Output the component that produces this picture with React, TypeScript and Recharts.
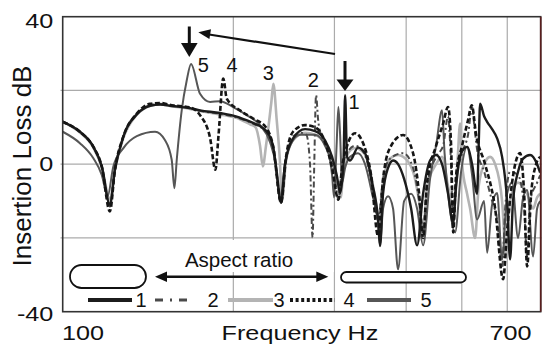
import { CartesianGrid, Line, LineChart, XAxis, YAxis } from "recharts";

// frequency (Hz) / insertion loss (dB), one pair of arrays per shape
const freq1 = [100.9, 108.1, 114.1, 118.0, 121.9, 124.4, 128.6, 135.8, 143.2, 149.1, 156.2, 168.1, 175.0, 189.6, 205.4, 216.5, 228.7, 234.5, 238.0, 242.2, 246.0, 254.1, 266.7, 277.6, 288.9, 297.2, 302.8, 307.0, 311.0, 313.1, 315.6, 319.4, 329.8, 339.2, 348.9, 357.4, 360.2, 364.6, 372.0, 379.5, 387.2, 396.7, 408.0, 417.9, 428.1, 440.2, 451.0, 461.9, 473.2, 482.9, 488.7, 498.6, 510.7, 521.1, 531.6, 535.0, 538.1, 546.8, 553.4, 564.6, 576.1, 587.7, 599.6, 606.8, 614.0, 626.7, 639.4, 657.5, 676.3, 684.5];
const loss1 = [11.5, 8.8, 4.7, -0.6, -11, -1.5, 7.4, 13.5, 15.8, 16.2, 15.8, 15.2, 14.6, 13.9, 12.6, 11.2, 8.8, 5, -2, -10.5, 0, 7, 9.5, 9, 6.5, 2, -3, -7.8, 0, 18.7, 2, 1, 4.5, 3, -5, -15, -22.2, -8, -1, 1, 0, -4, -12, -22, -8, 1, 2.5, 0, -8, -16, -6, 3, 4.7, 0, -8, 5, 16.4, 13, 11.5, 9.5, 7, 2, -10, -25.8, -10, -2, 1.5, 2.5, 0, -2.3];

const freq2 = [100.9, 108.1, 114.1, 118.0, 121.9, 124.4, 128.6, 135.8, 143.2, 149.1, 156.2, 168.1, 175.0, 189.6, 205.4, 216.5, 228.7, 234.5, 242.2, 247.1, 254.1, 262.3, 268.0, 272.0, 274.8, 276.5, 278.7, 281.0, 285.0, 294.8, 300.0, 304.8, 309.3, 315.6, 325.9, 337.9, 347.5, 357.4, 364.6, 375.0, 395.1, 411.2, 421.3, 428.1, 435.0, 451.0, 463.9, 473.2, 478.0, 482.9, 488.7, 500.6, 512.7, 521.1, 526.0, 531.6, 546.8, 564.6, 576.1, 587.7, 595.0, 606.8, 626.7, 642.0, 649.7, 657.5, 676.3, 684.5];
const loss2 = [11.5, 8.8, 4.7, -0.6, -11.5, -1.5, 7.4, 13.7, 16, 16.4, 15.9, 15.2, 14.5, 13.7, 12.4, 11, 8.6, 4, -10, 1, 7.5, 8.5, 8, 0, -19.9, -2, 18.7, 12, 7.4, 3, -3, -9.6, -1, 3, 5, 3, -4, -15, -4, 1.5, 3, -1, -10, -19, -6, 2, 5, 13, 3, -15, -5, 3, 8, 15.5, 10, 4, -2, -10, -15, -28, -12, -2, -3, -12, -25, -10, -5, -3];

const freq3 = [100.9, 108.1, 114.1, 118.0, 121.9, 124.4, 128.6, 135.8, 143.2, 149.1, 156.2, 168.1, 175.0, 189.6, 205.4, 213.9, 218.7, 222.6, 225.1, 228.0, 233.0, 234.8, 238.0, 241.0, 243.0, 247.1, 254.1, 266.7, 277.6, 288.9, 297.2, 302.8, 307.5, 311.0, 315.6, 325.9, 337.9, 347.5, 357.4, 360.2, 364.6, 375.0, 387.2, 395.1, 411.2, 421.3, 428.1, 435.0, 451.0, 461.9, 473.2, 482.9, 488.7, 492.0, 496.6, 500.6, 510.7, 516.9, 527.4, 535.0, 546.8, 560.0, 571.5, 587.7, 597.0, 606.8, 626.7, 649.7, 665.6, 676.3, 684.5];
const loss3 = [11.5, 8.6, 4.5, -0.8, -9.6, -1.5, 7, 13.4, 15.8, 16.2, 15.7, 15, 14.4, 13.5, 12.2, 10.8, 10, 5, -0.6, 5, 17, 21.8, 12, 1.2, -10, 1, 6.5, 8.5, 8, 5.5, 1, -4, -9, -2, 2.5, 4.4, 3, -3, -14, -16, -5, 1.5, 2.5, 2, -2, -10, -18, -6, 0, 2, -6, -12, -5, 2, 11, 0, -8, -12, -20, -6, 0, 2, 0, -10, -25, -10, -5, -8, -12, -9, -8];

const freq4 = [100.9, 108.1, 114.1, 118.0, 121.9, 124.4, 128.6, 135.8, 143.2, 149.1, 156.2, 168.1, 175.0, 182.2, 186.1, 188.5, 192.1, 194.8, 205.4, 216.5, 228.7, 234.5, 242.2, 247.1, 254.1, 266.7, 277.6, 288.9, 297.2, 304.8, 309.3, 315.6, 325.9, 337.9, 347.5, 357.4, 364.6, 375.0, 395.1, 411.2, 421.3, 428.1, 435.0, 451.0, 463.9, 473.2, 479.0, 482.9, 488.7, 500.6, 512.7, 520.4, 529.5, 548.9, 571.5, 590.1, 599.6, 611.7, 631.6, 642.0, 649.7, 660.3, 673.6, 684.5];
const loss4 = [11.5, 8.8, 4.7, -0.6, -12.8, -1.5, 7.4, 13.7, 16.4, 16.6, 16, 15.4, 13.3, 7.1, -1.5, 8, 23.2, 17.8, 14.6, 12.4, 9.7, 5, -10.4, 2, 8.8, 10.6, 10, 6, -1, -9.6, -1, 5, 8.4, 5, -3, -19.5, -4, 4.5, 7.9, 3, -8, -20, -5, 5, 11, 15.5, 5, -18.5, -3, 5, 12, 16, 8, 0, -12, -31.2, -18, -5, 3, -8, -27.7, -8, 0, 2];

const freq5 = [100.9, 108.1, 114.1, 118.0, 120.8, 123.6, 128.6, 135.8, 146.1, 152.1, 156.2, 157.9, 159.4, 162.6, 165.9, 168.8, 175.0, 182.2, 189.6, 199.8, 211.1, 222.6, 231.7, 237.0, 241.2, 246.0, 251.1, 261.4, 277.6, 288.9, 294.8, 297.2, 299.6, 302.6, 304.8, 306.9, 309.3, 313.1, 319.4, 329.8, 339.2, 348.9, 357.4, 360.2, 364.6, 372.0, 379.5, 387.2, 396.7, 408.0, 417.9, 428.1, 440.2, 451.0, 461.9, 466.6, 473.2, 486.7, 498.6, 510.7, 521.1, 531.6, 546.8, 553.4, 564.6, 576.1, 587.7, 599.6, 611.7, 626.7, 639.4, 649.7, 665.6, 676.3, 684.5];
const loss5 = [8.8, 5.7, 1.6, -2.9, -8.7, -0.6, 4.3, 7.6, 8.8, 6.5, 1.2, -6.5, 1.2, 14.6, 22.7, 27.2, 19.1, 16.9, 17.1, 15.5, 13.3, 10.6, 6, 0, -10, 0, 5, 8, 8, 5, 1, -3, -9, 5, 15.5, 8, -5, -1, 2, 3, 0, -8, -16, -22, -12, -8.7, -12, -28.5, -10, -8, -12, -22, -4, 5, 14.6, 3, -8, -18.5, -2, 4.7, -3, -15, -10, -24, -11, -7.8, -25.8, -8, -5, -20, -9, -7, -25, -12, -10];

const xTicks = [100, 700];
const yTicks = [-40, 0, 40];
const xGrid = [200, 300, 400, 500, 600];
const yGrid = [-20, 0, 20];

const FONT = "'Liberation Sans', Arial, sans-serif";

const rows = (f: number[], v: number[]) => f.map((x, i) => ({ f: x, v: v[i] }));

const series = [
  { name: "1", data: rows(freq1, loss1), stroke: "#1c1c1c", width: 2.4, dash: undefined as string | undefined, legendDash: undefined as string | undefined, legendWidth: 4.2, legend: [88, 132, 141] },
  { name: "2", data: rows(freq2, loss2), stroke: "#4a4a4a", width: 2, dash: "6 3 2 3", legendDash: "8 7 2 7", legendWidth: 3, legend: [155, 194, 213] },
  { name: "3", data: rows(freq3, loss3), stroke: "#b4b4b4", width: 2.6, dash: undefined, legendDash: undefined, legendWidth: 4.2, legend: [228, 273, 279] },
  { name: "4", data: rows(freq4, loss4), stroke: "#151515", width: 2.6, dash: "5 2.5", legendDash: "3 2.6", legendWidth: 4, legend: [290, 335, 349] },
  { name: "5", data: rows(freq5, loss5), stroke: "#565656", width: 2, dash: undefined, legendDash: undefined, legendWidth: 4.2, legend: [367, 411, 426] },
];
const drawOrder = [2, 4, 1, 0, 3];

const XTick = (props: any) => {
  const { x, y, payload } = props;
  const first = payload.value === xTicks[0];
  return (
    <g transform={`translate(${first ? x + 1.5 : x - 2.4},${y + 28.3}) scale(1.2,1)`}>
      <text x={0} y={0} textAnchor={first ? "start" : "end"} fontSize={21} fill="#111" fontFamily={FONT}>
        {payload.value}
      </text>
    </g>
  );
};

const yNudge: Record<string, number> = { "40": 4, "0": 0, "-40": 2.5 };
const YTick = (props: any) => {
  const { x, y, payload } = props;
  return (
    <g transform={`translate(${x - 7.2},${y + (yNudge[String(payload.value)] ?? 0)}) scale(1.2,1)`}>
      <text x={0} y={0} textAnchor="end" dominantBaseline="central" fontSize={21} fill="#111" fontFamily={FONT}>
        {payload.value}
      </text>
    </g>
  );
};

const peakNotes = [
  { t: "5", x: 203.3, y: 65 },
  { t: "4", x: 232, y: 65 },
  { t: "3", x: 268.3, y: 73 },
  { t: "2", x: 313.3, y: 80 },
  { t: "1", x: 354, y: 102 },
];

const Overlay = () => (
  <svg width={546} height={347} style={{ position: "absolute", left: 0, top: 0, pointerEvents: "none" }} fontFamily={FONT}>
    <rect x={541.5} y={0} width={5} height={347} fill="#fff" />
    <rect x={175} y={240} width={159} height={32} fill="#fff" />
    <rect x={62.7} y={16.7} width={478} height={295} fill="none" stroke="#333" strokeWidth={1.6} />
    <line x1={540.7} y1={16.7} x2={540.7} y2={311.7} stroke="#5a1f1f" strokeWidth={1.6} />

    {/* resonance shift arrows */}
    <line x1={189.3} y1={26.5} x2={189.3} y2={45} stroke="#111" strokeWidth={3} />
    <polygon points="181,43 197.6,43 189.3,57" fill="#111" />
    <line x1={345} y1={61} x2={345} y2={81} stroke="#111" strokeWidth={3} />
    <polygon points="336.5,79.5 353.5,79.5 345,91" fill="#111" />
    <line x1={335} y1={54} x2={209} y2={34.5} stroke="#111" strokeWidth={2.2} />
    <polygon points="198.3,32.3 211,29.3 209.4,39.1" fill="#111" />
    {peakNotes.map((p) => (
      <text key={p.t} x={p.x} y={p.y} textAnchor="middle" dominantBaseline="central" fontSize={20} fill="#111">
        {p.t}
      </text>
    ))}

    {/* aspect ratio sketch */}
    <text x={239} y={266.7} textAnchor="middle" fontSize={20.5} fill="#111">
      Aspect ratio
    </text>
    <line x1={165} y1={276.7} x2={318} y2={276.7} stroke="#111" strokeWidth={2.5} />
    <polygon points="155,276.7 167,271.5 167,281.9" fill="#111" />
    <polygon points="328.3,276.7 316.3,271.5 316.3,281.9" fill="#111" />
    <rect x={70} y={265} width={76} height={23} rx={11.5} fill="#fff" stroke="#111" strokeWidth={1.8} />
    <rect x={341} y={272} width={125} height={10.5} rx={5.25} fill="#fff" stroke="#111" strokeWidth={1.8} />

    {/* legend */}
    {series.map((s) => (
      <g key={s.name}>
        <line x1={s.legend[0]} y1={300} x2={s.legend[1]} y2={300} stroke={s.stroke} strokeWidth={s.legendWidth} strokeDasharray={s.legendDash} />
        <text x={s.legend[2]} y={307} textAnchor="middle" fontSize={20} fill="#111">
          {s.name}
        </text>
      </g>
    ))}

    {/* axis titles */}
    <text transform="translate(22,166) rotate(-90)" textAnchor="middle" dominantBaseline="central" fontSize={26} fill="#111">
      Insertion Loss dB
    </text>
    <g transform="translate(300,340) scale(1.2,1)">
      <text x={0} y={0} textAnchor="middle" fontSize={21} fill="#111">
        Frequency Hz
      </text>
    </g>
  </svg>
);

export default function App() {
  return (
    <div style={{ position: "absolute", left: 0, top: 0, width: 546, height: 347, background: "#fff" }}>
      <LineChart width={546} height={347} margin={{ top: 16.7, right: 0.3, bottom: 0.3, left: 0.5 }}>
        <CartesianGrid stroke="#ababab" strokeWidth={1.2} horizontalValues={yGrid} verticalValues={xGrid} />
        <XAxis
          dataKey="f"
          type="number"
          scale="log"
          domain={[100, 700]}
          allowDataOverflow
          ticks={xTicks}
          height={35}
          axisLine={false}
          tickLine={false}
          tickSize={0}
          tickMargin={0}
          tick={<XTick />}
        />
        <YAxis
          type="number"
          domain={[-40, 40]}
          ticks={yTicks}
          width={60}
          axisLine={false}
          tickLine={false}
          tickSize={0}
          tickMargin={0}
          tick={<YTick />}
        />
        {drawOrder.map((i) => {
          const s = series[i];
          return (
            <Line
              key={s.name}
              data={s.data}
              dataKey="v"
              type="monotone"
              stroke={s.stroke}
              strokeWidth={s.width}
              strokeDasharray={s.dash}
              dot={false}
              activeDot={false}
              isAnimationActive={false}
            />
          );
        })}
      </LineChart>
      <Overlay />
    </div>
  );
}
